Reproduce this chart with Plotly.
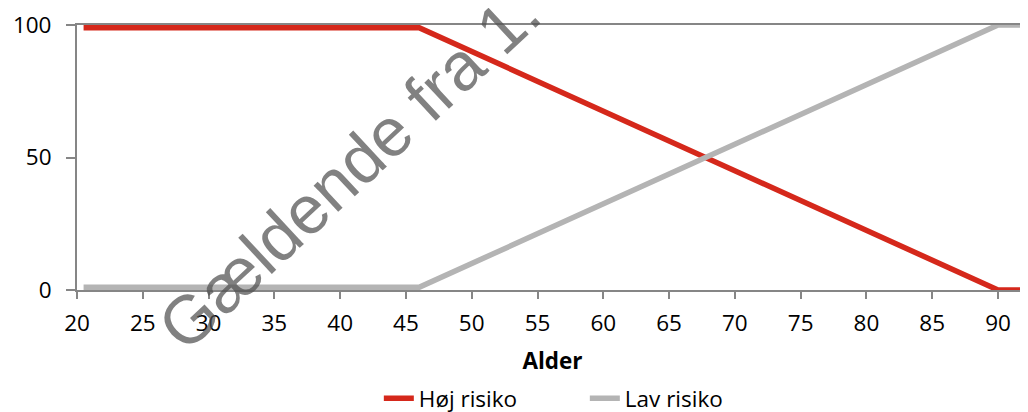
import plotly.graph_objects as go

# Data (piecewise-linear shares, %)
alder = [20.5, 46, 90, 92.5]
hoej_risiko = [99, 99, 0, 0]
lav_risiko = [1, 1, 100, 100]
x_ticks = [20, 25, 30, 35, 40, 45, 50, 55, 60, 65, 70, 75, 80, 85, 90]
y_ticks = [0, 50, 100]

FONT = "Open Sans"
FS = 22.5
AXIS_COL = "#868686"

fig = go.Figure()
fig.add_trace(go.Scatter(x=alder, y=hoej_risiko, mode="lines", name="Høj risiko",
                         line=dict(color="#d5281b", width=5.5)))
fig.add_trace(go.Scatter(x=alder, y=lav_risiko, mode="lines", name="Lav risiko",
                         line=dict(color="#b4b4b4", width=5.5)))

# page has an 8px body margin, so the figure is 1020x404 and offset by 8px
fig.update_layout(
    width=1020, height=404,
    margin=dict(l=69, r=0, t=17, b=122, autoexpand=False),
    paper_bgcolor="white", plot_bgcolor="white",
    font=dict(family=FONT, size=FS, color="#000000"),
    showlegend=True,
    legend=dict(orientation="h", x=0.534, xanchor="center", y=-0.41, yanchor="middle",
                font=dict(family=FONT, size=FS), entrywidth=161, entrywidthmode="pixels",
                bgcolor="rgba(0,0,0,0)"),
    xaxis=dict(range=[20, 92.28], tickmode="array", tickvals=x_ticks, automargin=False,
               showgrid=False, zeroline=False, showline=True, linecolor=AXIS_COL, linewidth=2,
               mirror=True, ticks="outside", ticklen=7, tickcolor=AXIS_COL, tickwidth=2,
               tickfont=dict(family=FONT, size=FS), ticklabelstandoff=5,
               title=dict(text="<b>Alder</b>", font=dict(family=FONT, size=FS), standoff=16)),
    yaxis=dict(range=[0, 100], tickmode="array", tickvals=y_ticks, automargin=False,
               showgrid=False, zeroline=False, showline=True, linecolor=AXIS_COL, linewidth=2,
               ticks="outside", ticklen=9, tickcolor=AXIS_COL, tickwidth=2,
               tickfont=dict(family=FONT, size=FS), ticklabelstandoff=10),
)

fig.add_annotation(text="Gældende fra 1.", xref="paper", yref="paper",
                   x=0.286, y=0.457, xanchor="center", yanchor="middle",
                   showarrow=False, textangle=-43,
                   font=dict(family="Liberation Sans", size=68, color="rgba(80,80,80,0.72)"))

fig.write_html("out.html")
